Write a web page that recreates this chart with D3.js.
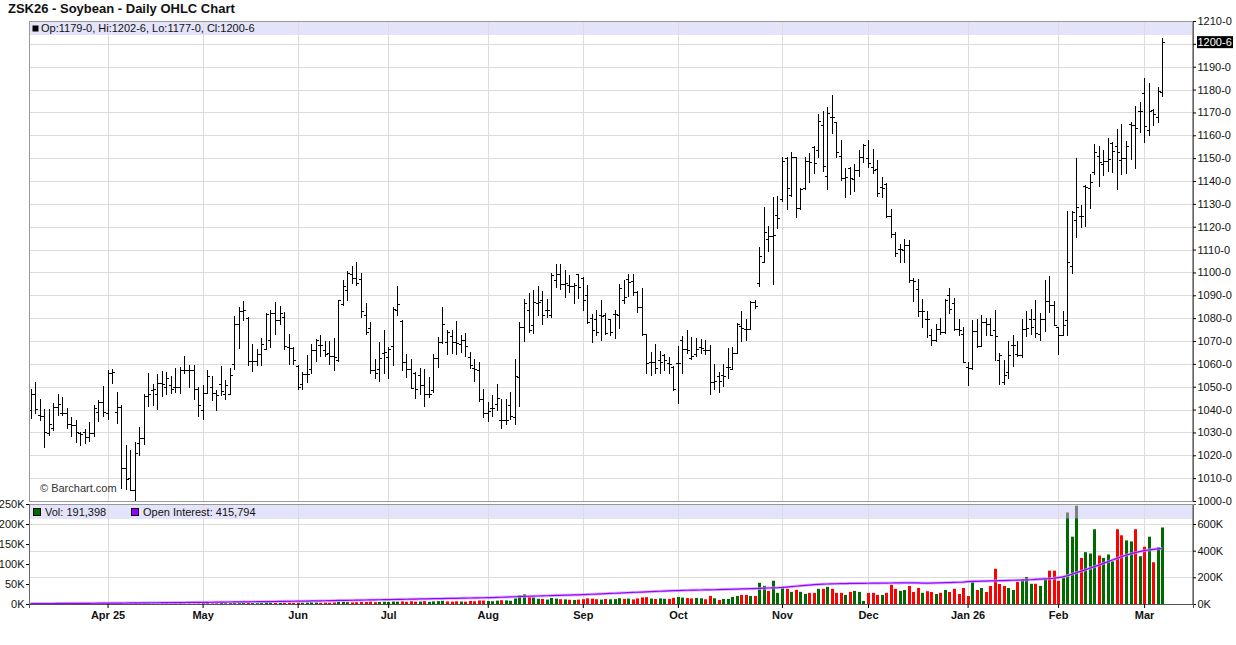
<!DOCTYPE html>
<html><head><meta charset="utf-8">
<script src="https://cdn.jsdelivr.net/npm/d3@7"></script>
<style>
body{margin:0;background:#fff;}
svg{display:block;font-family:"Liberation Sans",Arial,Helvetica,sans-serif;}
</style>
</head><body>
<svg id="c" width="1236" height="645"></svg>
<script>
// ---------------- DATA ----------------
const symbolTitle = "ZSK26 - Soybean - Daily OHLC Chart";
const firstSession = "2025-03-07";
const holidays = ["2025-04-18","2025-05-26","2025-06-19","2025-07-04","2025-09-01","2025-11-27","2025-12-25","2026-01-01","2026-01-19","2026-02-16"];
const monthNames = ["Jan","Feb","Mar","Apr","May","Jun","Jul","Aug","Sep","Oct","Nov","Dec"];

const opens = [1039.8,1047.0,1037.6,1037.3,1029.6,1031.8,1041.2,1038.3,1038.3,1033.9,
1033.2,1029.9,1030.3,1028.1,1029.6,1039.0,1043.4,1038.3,1056.1,1039.0,
1041.2,1014.3,1009.9,1004.8,1025.2,1027.4,1046.0,1048.5,1047.0,1051.7,
1049.9,1050.7,1049.9,1049.9,1057.2,1057.5,1057.2,1049.2,1039.8,1047.3,
1049.9,1047.3,1051.4,1047.0,1047.0,1060.1,1077.6,1083.0,1080.2,1061.1,
1061.3,1064.2,1066.7,1070.3,1082.2,1079.3,1080.5,1067.4,1067.1,1059.0,
1051.4,1055.5,1057.9,1066.0,1068.1,1066.0,1064.8,1063.3,1061.6,1086.3,
1092.4,1099.4,1097.7,1097.2,1081.2,1075.8,1057.5,1057.7,1064.8,1063.0,
1067.7,1083.4,1078.8,1060.9,1057.9,1056.1,1055.0,1050.7,1047.0,1048.5,
1062.7,1069.6,1069.6,1072.1,1069.6,1068.9,1070.3,1063.0,1058.4,1057.2,
1044.6,1038.7,1040.5,1042.4,1035.4,1035.4,1042.2,1036.9,1054.3,1076.1,
1083.4,1076.9,1086.6,1087.8,1083.7,1081.2,1096.8,1099.4,1095.0,1094.3,
1093.9,1099.4,1097.7,1090.0,1080.2,1079.8,1081.2,1081.2,1079.8,1081.9,
1081.5,1088.1,1097.2,1096.1,1091.4,1084.9,1073.2,1060.9,1060.9,1061.6,
1063.8,1060.4,1058.7,1060.4,1070.3,1066.7,1062.7,1064.5,1067.4,1066.2,
1066.2,1052.1,1054.6,1055.0,1058.7,1057.9,1064.8,1076.4,1075.4,1075.4,
1087.0,1095.3,1104.5,1114.7,1116.1,1125.2,1132.1,1150.0,1134.0,1150.3,
1128.1,1136.9,1148.9,1155.0,1153.5,1164.6,1142.3,1168.1,1165.6,1151.1,
1141.3,1145.7,1140.9,1144.8,1150.6,1150.0,1146.3,1145.2,1137.2,1138.7,
1124.9,1116.6,1110.3,1109.9,1111.8,1096.5,1092.9,1083.0,1079.8,1072.5,
1070.3,1075.1,1073.9,1090.2,1086.7,1075.1,1073.2,1058.7,1058.2,1074.2,
1067.8,1078.3,1077.6,1074.7,1061.6,1052.1,1056.5,1068.4,1064.5,1063.8,
1075.4,1079.5,1079.5,1073.2,1079.5,1087.3,1085.9,1076.1,1072.5,1079.0,
1102.7,1123.1,1124.9,1137.7,1136.8,1143.8,1150.8,1147.4,1148.9,1156.6,
1155.1,1149.3,1150.0,1164.9,1164.4,1170.6,1178.4,1162.4,1171.1,1168.1,
1179.0];
const highs = [1048.8,1052.0,1044.6,1040.1,1040.3,1042.7,1046.7,1045.4,1040.5,1036.8,
1035.4,1030.3,1031.3,1034.4,1041.9,1044.4,1050.2,1057.2,1057.8,1047.5,
1041.8,1024.5,1022.3,1025.8,1032.5,1047.0,1055.8,1051.1,1055.6,1056.8,
1056.5,1054.7,1058.4,1058.7,1063.6,1059.7,1059.3,1049.9,1050.7,1057.2,
1054.6,1048.5,1059.0,1052.9,1058.4,1081.1,1084.9,1087.3,1080.5,1068.6,
1066.4,1071.5,1082.4,1083.4,1087.0,1085.2,1082.5,1073.2,1067.4,1059.5,
1056.6,1063.8,1068.6,1071.0,1072.8,1069.9,1069.9,1071.5,1088.1,1096.9,
1100.6,1102.6,1104.7,1099.9,1086.8,1078.2,1062.3,1069.4,1075.0,1067.4,
1084.9,1093.9,1079.0,1064.2,1062.0,1056.5,1058.4,1057.7,1054.3,1064.2,
1071.8,1084.7,1075.0,1074.7,1078.6,1072.6,1073.7,1065.2,1062.3,1060.6,
1048.9,1043.3,1046.3,1051.1,1044.6,1044.6,1047.6,1062.2,1078.5,1088.5,
1090.8,1092.4,1093.9,1091.8,1088.2,1099.7,1103.8,1103.8,1101.2,1098.7,
1095.3,1099.4,1098.0,1094.3,1081.7,1083.4,1087.8,1082.2,1079.8,1083.4,
1094.8,1096.9,1099.4,1099.4,1091.8,1093.3,1073.2,1065.2,1068.6,1065.7,
1064.5,1063.0,1059.0,1067.7,1072.1,1074.7,1071.8,1071.5,1071.0,1070.6,
1068.1,1059.8,1056.5,1059.8,1067.0,1067.4,1078.0,1083.1,1079.5,1087.5,
1088.1,1111.3,1128.5,1120.1,1133.2,1133.6,1150.3,1150.3,1152.8,1150.3,
1136.9,1150.6,1152.1,1155.4,1169.2,1170.7,1172.5,1177.7,1166.0,1157.9,
1145.5,1146.0,1147.4,1153.7,1156.4,1157.9,1154.0,1149.3,1141.9,1139.0,
1127.8,1117.6,1112.5,1114.7,1114.0,1097.5,1097.2,1088.2,1083.0,1075.4,
1077.6,1080.2,1088.5,1093.3,1088.8,1079.5,1076.1,1060.8,1079.0,1079.8,
1081.5,1080.2,1080.2,1083.4,1064.9,1061.6,1069.9,1072.8,1069.9,1079.8,
1083.0,1083.8,1087.8,1082.4,1096.5,1098.4,1087.3,1076.1,1083.0,1127.0,
1127.0,1149.9,1129.5,1138.3,1143.1,1156.4,1155.4,1153.7,1158.8,1157.2,
1162.7,1164.9,1157.6,1165.9,1172.9,1174.6,1185.1,1182.8,1171.4,1181.2,
1202.75];
const lows = [1036.4,1038.3,1035.5,1023.8,1028.8,1031.0,1037.6,1037.6,1031.8,1028.4,
1025.9,1024.5,1025.2,1026.4,1028.6,1035.1,1037.3,1035.7,1051.8,1034.2,
1005.6,1005.1,1004.8,1000.5,1020.1,1024.8,1041.5,1041.9,1040.1,1046.0,
1046.7,1047.3,1047.5,1047.3,1055.9,1049.7,1044.6,1037.3,1035.7,1047.3,
1044.4,1039.8,1046.3,1044.7,1047.0,1057.7,1067.1,1079.2,1059.7,1056.9,
1059.3,1059.7,1066.7,1067.4,1073.2,1077.6,1066.5,1060.1,1059.8,1048.8,
1049.2,1052.1,1056.1,1061.1,1063.6,1063.3,1060.1,1057.5,1061.1,1085.9,
1088.1,1095.5,1094.6,1080.5,1073.2,1056.1,1053.9,1052.6,1055.8,1053.6,
1059.4,1081.2,1057.5,1054.3,1049.4,1045.1,1046.7,1041.7,1045.3,1047.9,
1058.7,1069.3,1064.2,1064.9,1064.5,1065.2,1063.3,1058.4,1052.6,1043.8,
1036.6,1035.1,1037.4,1039.8,1031.8,1033.6,1035.7,1033.9,1041.7,1070.0,
1073.9,1073.7,1081.2,1077.6,1080.5,1080.5,1093.6,1092.9,1089.2,1091.3,
1086.6,1088.9,1083.4,1078.0,1069.6,1072.6,1070.3,1073.2,1072.5,1071.3,
1075.8,1086.6,1089.5,1090.0,1082.7,1072.5,1055.8,1055.0,1055.8,1056.1,
1057.2,1055.8,1048.5,1042.7,1056.1,1064.8,1062.3,1063.3,1064.8,1064.5,
1047.0,1049.2,1047.8,1050.2,1053.6,1057.9,1064.8,1070.0,1070.3,1075.4,
1084.4,1094.0,1104.5,1109.3,1095.0,1119.5,1131.4,1127.8,1133.6,1124.1,
1127.8,1136.5,1139.4,1143.4,1150.6,1144.2,1136.5,1161.0,1150.6,1140.4,
1133.2,1134.3,1135.8,1142.3,1148.2,1146.3,1143.4,1133.6,1133.2,1124.1,
1115.4,1107.0,1104.5,1104.5,1095.8,1087.3,1080.9,1076.1,1071.8,1068.1,
1069.9,1073.2,1073.6,1082.4,1074.7,1072.8,1060.6,1050.7,1057.9,1067.4,
1067.8,1072.5,1072.5,1061.6,1051.0,1051.4,1053.9,1059.1,1063.3,1063.0,
1072.0,1073.2,1071.8,1070.3,1074.2,1082.7,1076.8,1064.5,1072.5,1072.5,
1099.8,1115.4,1119.8,1120.5,1128.1,1143.1,1137.7,1142.8,1144.5,1143.8,
1136.5,1143.1,1143.3,1149.6,1145.5,1161.5,1157.2,1160.2,1164.6,1165.9,
1177.0];
const closes = [1046.7,1040.1,1037.3,1030.3,1033.9,1041.2,1042.4,1038.3,1033.9,1033.2,
1030.3,1029.3,1027.8,1029.9,1040.5,1043.4,1039.0,1056.1,1056.3,1041.2,
1014.3,1009.5,1004.8,1021.1,1027.4,1046.0,1046.7,1049.2,1051.7,1051.0,
1053.9,1049.2,1049.9,1057.2,1057.5,1057.5,1049.2,1041.9,1047.3,1054.6,
1047.3,1046.3,1048.2,1050.7,1055.0,1077.6,1083.0,1083.4,1061.1,1061.3,
1064.5,1068.6,1082.0,1082.2,1079.3,1082.2,1067.7,1067.1,1061.6,1049.9,
1055.5,1055.5,1066.2,1070.6,1068.1,1064.5,1063.3,1063.0,1087.8,1093.9,
1099.7,1097.7,1095.5,1083.1,1074.0,1057.5,1055.8,1062.7,1065.2,1066.7,
1084.1,1086.0,1060.6,1057.9,1049.4,1048.9,1050.7,1046.6,1046.7,1062.7,
1069.6,1077.6,1073.9,1069.6,1069.2,1070.3,1067.7,1059.7,1057.9,1044.6,
1038.7,1039.2,1040.6,1044.9,1035.4,1035.4,1037.1,1054.6,1076.0,1086.8,
1074.7,1087.0,1087.0,1081.5,1083.7,1098.7,1099.4,1095.0,1095.5,1093.9,
1094.6,1093.6,1088.1,1078.3,1074.7,1073.8,1080.9,1073.7,1073.9,1081.7,
1093.3,1089.2,1095.8,1091.4,1084.9,1073.2,1060.4,1060.9,1058.4,1060.9,
1061.6,1059.8,1048.8,1060.4,1066.7,1066.2,1063.5,1066.7,1067.0,1065.9,
1052.1,1052.6,1052.3,1054.6,1058.7,1064.8,1077.6,1075.8,1075.4,1087.0,
1085.2,1107.0,1117.6,1116.1,1116.5,1123.8,1148.9,1136.9,1150.3,1128.2,
1136.5,1148.9,1148.4,1148.0,1166.3,1146.7,1169.7,1167.8,1152.5,1141.2,
1141.6,1141.3,1144.8,1150.6,1155.9,1147.7,1144.8,1134.6,1136.9,1124.9,
1116.6,1108.4,1110.3,1112.2,1096.8,1096.1,1083.0,1083.0,1079.8,1070.3,
1075.4,1073.9,1087.8,1084.1,1075.1,1074.7,1060.8,1058.2,1074.2,1067.8,
1078.3,1077.6,1072.8,1072.0,1063.8,1055.0,1064.0,1068.4,1064.0,1075.1,
1075.5,1076.1,1073.6,1079.5,1087.3,1085.6,1076.8,1072.5,1077.1,1104.5,
1126.3,1128.5,1124.9,1137.2,1139.7,1152.5,1148.4,1148.9,1149.5,1153.2,
1152.5,1149.9,1155.1,1164.4,1163.0,1170.6,1164.1,1170.6,1169.2,1179.4,
1200.75];
// volume, thousands of contracts
const volumeK = [1.0,0.8,1.2,0.9,1.1,0.7,0.9,1.0,1.3,0.8,
1.0,0.9,1.1,0.8,1.2,1.0,1.4,1.5,1.2,1.3,
2.0,1.8,1.6,2.2,1.5,1.9,1.4,1.6,1.3,1.7,
1.5,1.2,1.4,1.8,1.6,1.5,1.3,1.7,2.2,2.6,
2.0,2.4,2.8,2.1,2.5,3.5,3.0,2.6,3.2,2.4,
2.2,2.7,3.6,2.9,3.1,2.5,3.3,2.8,2.6,3.4,
3.0,3.6,4.2,3.8,3.1,3.5,3.2,3.9,5.5,5.0,
4.6,4.0,4.4,5.2,4.8,6.0,4.5,5.1,5.6,5.3,
6.2,5.8,6.5,5.4,6.8,5.9,6.1,7.0,5.5,6.6,
7.2,8.0,6.4,5.9,6.8,6.2,5.8,7.5,6.9,8.8,
8.5,7.6,7.0,8.4,9.5,9.0,8.1,14.0,22.0,24.0,
18.0,16.5,13.0,12.5,11.0,15.0,13.5,12.0,11.5,10.5,
10.0,11.0,12.0,14.0,13.5,12.0,11.0,12.5,11.8,12.2,
14.5,12.8,13.6,11.5,14.0,16.5,17.0,13.5,12.5,14.0,
13.0,12.8,15.5,17.5,16.0,14.8,13.9,15.2,14.4,11.8,
20.2,14.3,10.1,12.6,12.6,17.7,20.2,22.7,22.7,20.2,
20.2,53.0,45.4,32.8,58.1,27.8,40.4,37.9,30.3,35.3,
30.3,25.3,27.8,27.8,37.9,37.9,42.9,37.9,27.8,27.8,
22.7,30.3,32.8,30.3,7.6,27.8,27.8,22.7,22.7,27.8,
48.0,37.9,32.8,35.0,45.0,30.0,40.0,28.0,32.0,30.0,
25.0,28.0,35.0,30.0,38.0,25.0,40.0,20.0,55.0,35.0,
40.0,30.0,45.0,88.0,50.0,45.0,40.0,35.0,55.0,62.3,
67.3,50.5,50.5,45.4,63.1,83.3,83.3,58.1,66.5,214.6,
168.3,214.6,115.3,129.6,126.2,186.9,121.2,115.3,123.7,106.9,
186.9,171.7,159.1,156.5,186.9,119.5,143.1,168.3,104.4,142.2,
191.398];
// grey overflow caps on two sessions (thousands)
const greyCapIdx = [229, 231];
const greyCapTopK = [228.9, 245.8];
// open interest, thousands of contracts
const openInterestK = [3.0,3.2,3.4,3.5,3.7,3.9,4.0,4.2,4.4,4.6,
4.8,5.0,5.2,5.4,5.6,5.9,6.1,6.4,6.6,6.9,
7.2,7.5,7.8,8.0,8.3,8.6,8.9,9.2,9.5,9.8,
10.1,10.4,10.7,11.0,11.3,11.6,11.9,12.2,12.5,12.9,
13.3,13.7,14.1,14.5,14.9,15.3,15.7,16.1,16.5,16.9,
17.3,17.7,18.1,18.5,18.9,19.3,19.7,20.1,20.5,21.0,
21.5,22.0,22.8,23.2,24.0,24.5,25.1,25.8,26.5,27.0,
27.6,28.2,28.9,29.5,30.1,30.8,31.5,32.0,32.6,33.2,
33.9,34.5,35.2,35.8,36.4,37.1,37.8,38.4,39.0,39.7,
40.3,41.0,41.6,42.3,42.9,43.6,44.2,44.9,45.5,46.2,
46.8,47.5,48.5,49.5,50.6,51.8,53.0,54.5,56.0,57.0,
58.0,59.0,60.0,61.0,62.0,63.0,64.0,65.0,66.0,67.0,
68.0,69.0,70.0,71.5,73.0,74.5,76.0,77.5,79.0,80.5,
82.0,83.5,85.0,86.5,88.0,89.5,91.0,92.5,94.0,95.5,
97.0,98.5,100.0,101.0,102.0,103.0,104.0,104.5,105.0,106.0,
106.5,107.0,108.0,109.0,110.0,111.0,112.0,113.0,114.0,115.0,
116.0,117.0,118.5,120.0,121.0,122.0,124.0,127.0,130.0,133.0,
136.0,139.0,142.0,145.0,147.0,149.0,150.0,151.0,152.0,153.0,
153.5,154.0,154.5,155.0,155.0,155.5,156.0,156.5,157.0,157.0,
157.5,158.0,158.0,158.5,159.0,159.0,158.0,157.0,156.0,157.0,
158.0,159.0,160.0,161.0,162.0,163.0,164.0,168.0,169.0,170.0,
171.0,172.0,173.0,174.0,175.0,176.0,177.0,178.0,179.0,180.0,
181.0,182.0,184.0,186.0,188.0,190.0,193.0,198.0,203.0,212.0,
222.0,235.0,245.0,256.0,268.0,280.0,292.0,305.0,318.0,330.0,
342.0,355.0,366.0,376.0,385.0,393.0,400.0,405.0,410.0,414.0,
415.794];
const priceTicks = d3.range(1000, 1211, 10);
const volTicksK = [0, 50, 100, 150, 200, 250];
const oiTicksK = [0, 200, 400, 600];

// ---------------- HELPERS ----------------
function fmtPrice(p){ const w=Math.floor(p+1e-9); const e=Math.round((p-w)*8); return w+"-"+e; }
function fmtInt(n){ return d3.format(",")(Math.round(n)); }
function sessions(n){
  const out=[]; const d=new Date(firstSession+"T00:00:00Z");
  while(out.length<n){
    const wd=d.getUTCDay(), s=d.toISOString().slice(0,10);
    if(wd!==0 && wd!==6 && !holidays.includes(s)) out.push(new Date(d));
    d.setUTCDate(d.getUTCDate()+1);
  }
  return out;
}
const N = closes.length;
const dates = sessions(N);
const monthIdx = [], monthLbl = [];
for(let i=1;i<N;i++){
  if(dates[i].getUTCMonth()!==dates[i-1].getUTCMonth()){
    const m=dates[i].getUTCMonth();
    const yy=String(dates[i].getUTCFullYear()).slice(2);
    monthIdx.push(i);
    monthLbl.push(monthNames[m] + ((monthIdx.length===1||m===0) ? " "+yy : ""));
  }
}

// ---------------- LAYOUT ----------------
const L=29, R=1193, PT=21, PB=501, VT=504, VB=604;
const svg = d3.select("#c");
const x = d3.scaleLinear().domain([-0.35, 256.8]).range([L, R]);
const yP = d3.scaleLinear().domain([1000, 1210]).range([PB, PT]);
const yV = d3.scaleLinear().domain([0, 250]).range([VB, VT]);
const yOI = d3.scaleLinear().domain([0, 750]).range([VB, VT]);
const GRID="#dcdcdc", BORDER="#999999", BAND="#e3e3f9";
const GREEN="#006a00", RED="#ff0000";

// title
svg.append("text").attr("x",8).attr("y",13).attr("font-size","13px").attr("font-weight","bold")
  .attr("fill","#111").text(symbolTitle);

// ----- price panel -----
svg.append("rect").attr("x",L).attr("y",PT).attr("width",R-L).attr("height",PB-PT).attr("fill","#fff");
svg.append("rect").attr("x",L).attr("y",PT).attr("width",R-L).attr("height",14).attr("fill",BAND);
// grid
const gGridP = svg.append("g").attr("transform",`translate(${L},0)`)
  .call(d3.axisRight(yP).tickValues(priceTicks).tickSize(R-L).tickFormat(""));
gGridP.select(".domain").remove();
gGridP.selectAll("line").attr("stroke",GRID).attr("shape-rendering","crispEdges");
const gGridPX = svg.append("g").attr("transform",`translate(0,${PB})`)
  .call(d3.axisTop(x).tickValues(monthIdx).tickSize(PB-PT).tickFormat(""));
gGridPX.select(".domain").remove();
gGridPX.selectAll("line").attr("stroke",GRID).attr("shape-rendering","crispEdges");

// header text
svg.append("rect").attr("x",32.5).attr("y",25.5).attr("width",6).attr("height",6).attr("fill","#000");
const last=N-1;
svg.append("text").attr("x",41).attr("y",32).attr("font-size","11px").attr("fill","#111")
  .text(`Op:${fmtPrice(opens[last])}, Hi:${fmtPrice(highs[last])}, Lo:${fmtPrice(lows[last])}, Cl:${fmtPrice(closes[last])}`);

// watermark
svg.append("text").attr("x",40).attr("y",492).attr("font-size","11px").attr("fill","#333").text("\u00a9 Barchart.com");

// OHLC bars
const bars = svg.append("g").attr("stroke","#000").attr("stroke-width",1).attr("fill","none").attr("shape-rendering","crispEdges");
bars.selectAll("path").data(d3.range(N)).join("path")
  .attr("d", i => {
    const cx=Math.round(x(i))+0.5;
    const h=Math.round(yP(highs[i])), l=Math.round(yP(lows[i]));
    const o=Math.round(yP(opens[i]))+0.5, c=Math.round(yP(closes[i]))+0.5;
    return `M${cx},${h}V${l+1}M${cx-2.5},${o}H${cx}M${cx},${c}H${cx+2.5}`;
  });

// borders
svg.append("rect").attr("x",L+0.5).attr("y",PT+0.5).attr("width",R-L-1).attr("height",PB-PT)
  .attr("fill","none").attr("stroke",BORDER).attr("shape-rendering","crispEdges");

// price axis
const gPA = svg.append("g").attr("transform",`translate(${R},0)`)
  .call(d3.axisRight(yP).tickValues(priceTicks).tickSize(3).tickPadding(1.5).tickFormat(fmtPrice));
gPA.select(".domain").attr("stroke","#666");
gPA.selectAll("line").attr("stroke","#000");
gPA.selectAll("text").attr("font-size","11px").attr("font-family","Liberation Sans, Arial, sans-serif").attr("fill","#111");
// last price tag
const yl=yP(closes[last]);
svg.append("rect").attr("x",R+4).attr("y",yl-6).attr("width",36).attr("height",12).attr("fill","#000");
svg.append("text").attr("x",R+4.5).attr("y",yl).attr("dy","0.35em").attr("font-size","11px").attr("fill","#fff").text(fmtPrice(closes[last]));

// ----- volume panel -----
svg.append("rect").attr("x",L).attr("y",VT).attr("width",R-L).attr("height",VB-VT).attr("fill","#fff");
svg.append("rect").attr("x",L).attr("y",VT).attr("width",R-L).attr("height",15).attr("fill",BAND);
const gGridV = svg.append("g").attr("transform",`translate(${L},0)`)
  .call(d3.axisRight(yOI).tickValues(oiTicksK.filter(d=>d>0)).tickSize(R-L).tickFormat(""));
gGridV.select(".domain").remove();
gGridV.selectAll("line").attr("stroke",GRID).attr("shape-rendering","crispEdges");
const gGridVX = svg.append("g").attr("transform",`translate(0,${VB})`)
  .call(d3.axisTop(x).tickValues(monthIdx).tickSize(VB-VT).tickFormat(""));
gGridVX.select(".domain").remove();
gGridVX.selectAll("line").attr("stroke",GRID).attr("shape-rendering","crispEdges");

// volume bars
const bw=3;
svg.append("g").selectAll("rect").data(d3.range(N)).join("rect")
  .attr("x", i => Math.round(x(i)-bw/2+0.5))
  .attr("y", i => yV(volumeK[i]))
  .attr("width", bw)
  .attr("height", i => VB - yV(volumeK[i]))
  .attr("fill", i => (i===0 || closes[i] >= closes[i-1]) ? GREEN : RED);
svg.append("g").selectAll("rect").data(greyCapIdx).join("rect")
  .attr("x", (d) => Math.round(x(d)-bw/2+0.5))
  .attr("y", (d,k) => yV(greyCapTopK[k]))
  .attr("width", bw)
  .attr("height", (d,k) => yV(volumeK[d]) - yV(greyCapTopK[k]))
  .attr("fill","#7f7f7f");

// open interest line
const oiLine = d3.line().x((d,i)=>x(i)).y(d=>yOI(d));
svg.append("path").datum(openInterestK).attr("d",oiLine).attr("fill","none")
  .attr("stroke","#c9a0ff").attr("stroke-width",3).attr("stroke-opacity",0.7);
svg.append("path").datum(openInterestK).attr("d",oiLine).attr("fill","none")
  .attr("stroke","#9a00ff").attr("stroke-width",1.2);

// legend in band
svg.append("rect").attr("x",33.5).attr("y",508.5).attr("width",7).attr("height",7).attr("fill",GREEN).attr("stroke","#000");
svg.append("text").attr("x",45).attr("y",515.5).attr("font-size","11px").attr("fill","#111").text("Vol: "+fmtInt(volumeK[last]*1000));
svg.append("rect").attr("x",131.5).attr("y",508.5).attr("width",7).attr("height",7).attr("fill","#9a00ff").attr("stroke","#000");
svg.append("text").attr("x",143).attr("y",515.5).attr("font-size","11px").attr("fill","#111").text("Open Interest: "+fmtInt(openInterestK[last]*1000));

// border volume
svg.append("rect").attr("x",L+0.5).attr("y",VT+0.5).attr("width",R-L-1).attr("height",VB-VT)
  .attr("fill","none").attr("stroke",BORDER).attr("shape-rendering","crispEdges");

// left volume axis
const gVA = svg.append("g").attr("transform",`translate(${L},0)`)
  .call(d3.axisLeft(yV).tickValues(volTicksK).tickSize(3).tickPadding(1.5).tickFormat(d=>d+"K"));
gVA.select(".domain").attr("stroke","#666");
gVA.selectAll("line").attr("stroke","#000");
gVA.selectAll("text").attr("font-size","11px").attr("font-family","Liberation Sans, Arial, sans-serif").attr("fill","#111");
// right OI axis
const gOA = svg.append("g").attr("transform",`translate(${R},0)`)
  .call(d3.axisRight(yOI).tickValues(oiTicksK).tickSize(3).tickPadding(1.5).tickFormat(d=>d+"K"));
gOA.select(".domain").attr("stroke","#666");
gOA.selectAll("line").attr("stroke","#000");
gOA.selectAll("text").attr("font-size","11px").attr("font-family","Liberation Sans, Arial, sans-serif").attr("fill","#111");

// bottom month axis
const gX = svg.append("g").attr("transform",`translate(0,${VB})`)
  .call(d3.axisBottom(x).tickValues(monthIdx).tickSize(4).tickPadding(3).tickFormat((d,k)=>monthLbl[k]));
gX.select(".domain").attr("stroke","#555");
gX.selectAll("line").attr("stroke","#000");
gX.selectAll("text").attr("font-size","11px").attr("font-weight","bold").attr("font-family","Liberation Sans, Arial, sans-serif").attr("fill","#111");
</script>
</body></html>
